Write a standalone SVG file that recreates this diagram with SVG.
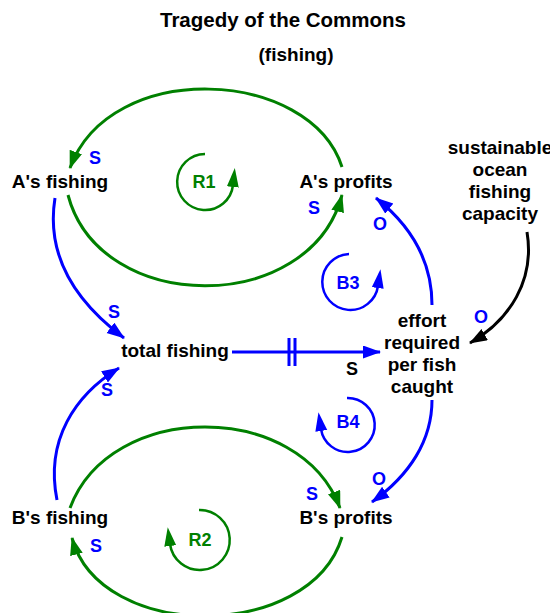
<svg xmlns="http://www.w3.org/2000/svg" width="550" height="613" viewBox="0 0 550 613">
  <style>
    text { font-family: "Liberation Sans", Arial, sans-serif; font-weight: bold; text-anchor: middle; }
    .title { font-size: 20.5px; fill: #000; }
    .sub { font-size: 19px; fill: #000; }
    .node { font-size: 19px; fill: #000; }
    .pol { font-size: 18px; fill: #0000ff; }
    .polk { font-size: 18px; fill: #000; }
    .loopg { font-size: 18px; fill: #008000; }
    .loopb { font-size: 18px; fill: #0000ff; }
    .g { fill: none; stroke: #008000; stroke-width: 3; }
    .b { fill: none; stroke: #0000ff; stroke-width: 3; }
    .k { fill: none; stroke: #000; stroke-width: 3; }
    .lg { fill: none; stroke: #008000; stroke-width: 2.5; }
    .lb { fill: none; stroke: #0000ff; stroke-width: 2.5; }
  </style>
  <defs>
    <marker id="ahG" markerUnits="userSpaceOnUse" markerWidth="20" markerHeight="14" refX="17" refY="6.5" orient="auto">
      <path d="M0,0 L18,6.5 L0,13 z" fill="#008000"/>
    </marker>
    <marker id="ahB" markerUnits="userSpaceOnUse" markerWidth="20" markerHeight="14" refX="17" refY="6.5" orient="auto">
      <path d="M0,0 L18,6.5 L0,13 z" fill="#0000ff"/>
    </marker>
    <marker id="ahK" markerUnits="userSpaceOnUse" markerWidth="20" markerHeight="14" refX="17" refY="6.5" orient="auto">
      <path d="M0,0 L18,6.5 L0,13 z" fill="#000"/>
    </marker>
    <marker id="lhG" markerUnits="userSpaceOnUse" markerWidth="20" markerHeight="14" refX="2" refY="6" orient="auto">
      <path d="M0,0 L19,6 L0,12 z" fill="#008000"/>
    </marker>
    <marker id="lhB" markerUnits="userSpaceOnUse" markerWidth="20" markerHeight="14" refX="2" refY="6" orient="auto">
      <path d="M0,0 L19,6 L0,12 z" fill="#0000ff"/>
    </marker>
  </defs>

  <!-- heading -->
  <text class="title" x="283" y="27">Tragedy of the Commons</text>
  <text class="sub" x="296" y="61">(fishing)</text>

  <!-- causal links -->
  <g id="connectors">
    <path class="g" d="M342,167 C310,68 110,58 70,168" marker-end="url(#ahG)"/>
    <path class="g" d="M68,195 C100,316 310,316 342,195" marker-end="url(#ahG)"/>
    <path class="b" d="M55,198 C45,260 80,305 124,338" marker-end="url(#ahB)"/>
    <path class="b" d="M57,500 C45,440 75,395 119,368" marker-end="url(#ahB)"/>
    <path class="b" d="M232,352 H380" marker-end="url(#ahB)"/>
    <path class="b" d="M289,338 V366 M295,338 V366" stroke-width="2.5"/>
    <path class="b" d="M432,305 C432,260 410,225 376,198" marker-end="url(#ahB)"/>
    <path class="k" d="M527,232 C535,280 510,320 470,343" marker-end="url(#ahK)"/>
    <path class="b" d="M432,400 C432,440 410,475 372,502" marker-end="url(#ahB)"/>
    <path class="g" d="M70,508 C110,400 300,400 340,508" marker-end="url(#ahG)"/>
    <path class="g" d="M342,537 C310,642 100,642 72,538" marker-end="url(#ahG)"/>

    <!-- link polarities -->
    <text class="pol" x="95" y="164">S</text>
    <text class="pol" x="314" y="214">S</text>
    <text class="pol" x="380" y="230">O</text>
    <text class="pol" x="114" y="318">S</text>
    <text class="pol" x="481" y="323">O</text>
    <text class="polk" x="352" y="375">S</text>
    <text class="pol" x="107" y="396">S</text>
    <text class="pol" x="379" y="485">O</text>
    <text class="pol" x="312" y="500">S</text>
    <text class="pol" x="96" y="552">S</text>
  </g>

  <!-- loop markers -->
  <g id="loop-R1">
    <path class="lg" d="M205,154 A28,28 0 1 0 233,185" marker-end="url(#lhG)"/>
    <text class="loopg" x="204" y="188">R1</text>
  </g>
  <g id="loop-B3">
    <path class="lb" d="M349,254 A28,28 0 1 0 378,286" marker-end="url(#lhB)"/>
    <text class="loopb" x="348" y="289">B3</text>
  </g>
  <g id="loop-B4">
    <path class="lb" d="M347,398 A27,27 0 1 1 321,429" marker-end="url(#lhB)"/>
    <text class="loopb" x="348" y="428">B4</text>
  </g>
  <g id="loop-R2">
    <path class="lg" d="M199,510 A30,30 0 1 1 170,544" marker-end="url(#lhG)"/>
    <text class="loopg" x="200" y="546">R2</text>
  </g>

  <!-- variables -->
  <g id="a-fishing"><text class="node" x="60" y="188">A's fishing</text></g>
  <g id="a-profits"><text class="node" x="346" y="188">A's profits</text></g>
  <g id="capacity">
    <text class="node" x="500" y="154">sustainable</text>
    <text class="node" x="500" y="176">ocean</text>
    <text class="node" x="500" y="198">fishing</text>
    <text class="node" x="500" y="220">capacity</text>
  </g>
  <g id="total-fishing"><text class="node" x="175" y="357">total fishing</text></g>
  <g id="effort">
    <text class="node" x="422" y="327">effort</text>
    <text class="node" x="422" y="349">required</text>
    <text class="node" x="422" y="371">per fish</text>
    <text class="node" x="422" y="393">caught</text>
  </g>
  <g id="b-fishing"><text class="node" x="60" y="524">B's fishing</text></g>
  <g id="b-profits"><text class="node" x="346" y="524">B's profits</text></g>
</svg>
